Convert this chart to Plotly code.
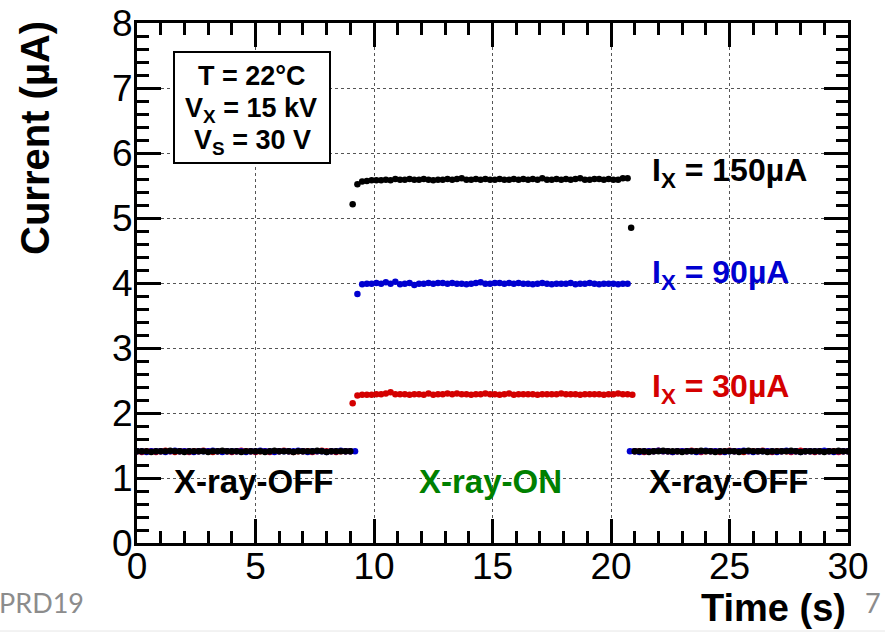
import plotly.graph_objects as go

# ---- measured samples -------------------------------------------------
# shared sampling times (s) for the three phases
t_off1 = [0.0, 0.2, 0.4, 0.6, 0.8, 1.0, 1.2, 1.4, 1.6, 1.8, 2.0, 2.2, 2.4, 2.6, 2.8,
          3.0, 3.2, 3.4, 3.6, 3.8, 4.0, 4.2, 4.4, 4.6, 4.8, 5.0, 5.2, 5.4, 5.6, 5.8,
          6.0, 6.2, 6.4, 6.6, 6.8, 7.0, 7.2, 7.4, 7.6, 7.8, 8.0, 8.2, 8.4, 8.6, 8.8,
          9.0, 9.2]
t_on = [9.3, 9.5, 9.7, 9.9, 10.1, 10.3, 10.5, 10.7, 10.9, 11.1, 11.3, 11.5, 11.7,
        11.9, 12.1, 12.3, 12.5, 12.7, 12.9, 13.1, 13.3, 13.5, 13.7, 13.9, 14.1, 14.3,
        14.5, 14.7, 14.9, 15.1, 15.3, 15.5, 15.7, 15.9, 16.1, 16.3, 16.5, 16.7, 16.9,
        17.1, 17.3, 17.5, 17.7, 17.9, 18.1, 18.3, 18.5, 18.7, 18.9, 19.1, 19.3, 19.5,
        19.7, 19.9, 20.1, 20.3, 20.5, 20.7]
t_off2 = [20.8, 21.0, 21.2, 21.4, 21.6, 21.8, 22.0, 22.2, 22.4, 22.6, 22.8, 23.0,
          23.2, 23.4, 23.6, 23.8, 24.0, 24.2, 24.4, 24.6, 24.8, 25.0, 25.2, 25.4, 25.6,
          25.8, 26.0, 26.2, 26.4, 26.6, 26.8, 27.0, 27.2, 27.4, 27.6, 27.8, 28.0, 28.2,
          28.4, 28.6, 28.8, 29.0, 29.2, 29.4, 29.6, 29.8, 30.0]

# I_X = 30 uA (red)
red_off1 = [1.41, 1.40, 1.41, 1.41, 1.40, 1.41, 1.42, 1.41, 1.40, 1.41, 1.41, 1.40,
            1.41, 1.41, 1.42, 1.41, 1.40, 1.41, 1.41, 1.41, 1.40, 1.41, 1.42, 1.41,
            1.41, 1.40, 1.41, 1.41, 1.40, 1.41, 1.41, 1.42, 1.41, 1.40, 1.41, 1.41,
            1.41, 1.40, 1.41, 1.42, 1.41, 1.41, 1.40, 1.41, 1.41, 1.41, None]
red_edge_t = [9.1, 20.9]
red_edge_v = [2.15, 2.28]
red_on = [2.27, 2.28, 2.28, 2.28, 2.29, 2.29, 2.30, 2.32, 2.29, 2.29, 2.29, 2.28,
          2.29, 2.29, 2.28, 2.30, 2.28, 2.29, 2.29, 2.30, 2.29, 2.30, 2.29, 2.29,
          2.28, 2.29, 2.29, 2.30, 2.29, 2.29, 2.28, 2.29, 2.30, 2.28, 2.29, 2.29,
          2.29, 2.29, 2.28, 2.29, 2.29, 2.29, 2.29, 2.30, 2.29, 2.29, 2.29, 2.28,
          2.29, 2.29, 2.29, 2.29, 2.28, 2.29, 2.29, 2.30, 2.29, 2.29]
red_off2 = [None, 1.41, 1.41, 1.40, 1.41, 1.41, 1.42, 1.41, 1.41, 1.40, 1.41, 1.41,
            1.41, 1.42, 1.41, 1.40, 1.41, 1.41, 1.41, 1.40, 1.41, 1.42, 1.41, 1.41,
            1.40, 1.41, 1.41, 1.41, 1.42, 1.41, 1.40, 1.41, 1.41, 1.41, 1.40, 1.41,
            1.42, 1.41, 1.41, 1.40, 1.41, 1.41, 1.41, 1.41, 1.40, 1.41, 1.41]

# I_X = 90 uA (blue)
blue_off1 = [1.41, 1.41, 1.40, 1.41, 1.41, 1.41, 1.40, 1.41, 1.42, 1.41, 1.41, 1.41,
             1.40, 1.41, 1.41, 1.41, 1.42, 1.41, 1.40, 1.41, 1.41, 1.41, 1.41, 1.40,
             1.41, 1.41, 1.42, 1.41, 1.41, 1.40, 1.41, 1.41, 1.41, 1.41, 1.42, 1.41,
             1.40, 1.41, 1.41, 1.41, 1.40, 1.41, 1.41, 1.42, 1.41, 1.41, 1.41]
blue_edge_t = [9.3]
blue_edge_v = [3.83]
blue_on = [None, 3.98, 3.99, 3.99, 4.00, 3.99, 4.01, 3.99, 4.02, 3.98, 3.99, 4.00,
           3.97, 3.99, 3.99, 4.00, 3.99, 4.00, 4.00, 3.99, 4.00, 3.99, 3.99, 3.98,
           3.99, 4.00, 4.01, 3.99, 3.99, 4.00, 4.00, 3.99, 4.00, 3.99, 4.00, 3.99,
           3.99, 3.98, 3.99, 4.00, 3.99, 3.98, 3.99, 3.99, 3.99, 4.00, 3.98, 3.99,
           3.99, 4.00, 3.99, 3.98, 3.99, 3.99, 3.99, 3.98, 3.99, 3.99]
blue_off2 = [1.41, 1.41, 1.40, 1.41, 1.41, 1.41, 1.42, 1.41, 1.41, 1.40, 1.41, 1.41,
             1.41, 1.41, 1.40, 1.41, 1.42, 1.41, 1.41, 1.41, 1.40, 1.41, 1.41, 1.41,
             1.42, 1.41, 1.40, 1.41, 1.41, 1.41, 1.41, 1.40, 1.41, 1.42, 1.41, 1.41,
             1.40, 1.41, 1.41, 1.41, 1.41, 1.42, 1.41, 1.40, 1.41, 1.41, 1.41]

# I_X = 150 uA (black)
black_off1 = [1.41, 1.41, 1.41, 1.40, 1.41, 1.41, 1.41, 1.42, 1.41, 1.41, 1.40, 1.41,
              1.41, 1.41, 1.41, 1.40, 1.41, 1.41, 1.42, 1.41, 1.41, 1.41, 1.40, 1.41,
              1.41, 1.41, 1.41, 1.40, 1.41, 1.42, 1.41, 1.41, 1.41, 1.40, 1.41, 1.41,
              1.41, 1.41, 1.42, 1.41, 1.40, 1.41, 1.41, 1.41, 1.41, 1.41, None]
black_edge_t = [9.1, 20.85]
black_edge_v = [5.21, 4.85]
black_on = [5.52, 5.56, 5.57, 5.58, 5.58, 5.58, 5.59, 5.58, 5.60, 5.59, 5.59, 5.60,
            5.59, 5.59, 5.60, 5.59, 5.58, 5.59, 5.59, 5.60, 5.59, 5.60, 5.61, 5.59,
            5.59, 5.60, 5.59, 5.60, 5.59, 5.59, 5.60, 5.59, 5.59, 5.60, 5.59, 5.60,
            5.59, 5.60, 5.59, 5.61, 5.59, 5.59, 5.60, 5.59, 5.60, 5.59, 5.60, 5.61,
            5.59, 5.59, 5.60, 5.60, 5.59, 5.60, 5.59, 5.59, 5.61, 5.61]
black_off2 = [None, 1.41, 1.41, 1.41, 1.40, 1.41, 1.41, 1.42, 1.41, 1.41, 1.41, 1.40,
              1.41, 1.41, 1.41, 1.42, 1.41, 1.41, 1.40, 1.41, 1.41, 1.41, 1.41, 1.40,
              1.41, 1.42, 1.41, 1.41, 1.41, 1.40, 1.41, 1.41, 1.41, 1.41, 1.42, 1.41,
              1.40, 1.41, 1.41, 1.41, 1.41, 1.40, 1.41, 1.41, 1.42, 1.41, 1.41]

series = [
    ("I_X = 30µA", "#d40000", red_off1, red_edge_t, red_edge_v, red_on, red_off2),
    ("I_X = 90µA", "#0000d0", blue_off1, blue_edge_t, blue_edge_v, blue_on, blue_off2),
    ("I_X = 150µA", "#000000", black_off1, black_edge_t, black_edge_v, black_on, black_off2),
]

FONT = "Liberation Sans, Arial, Helvetica, sans-serif"

# plot-area geometry in pixels (left, right, top, bottom)
L, R, T, B = 137, 848, 23, 543
W, H = R - L, B - T


def px(x):
    return (x - L) / W


def py(y):
    return (B - y) / H


fig = go.Figure()
for name, color, off1, edge_t, edge_v, on, off2 in series:
    xs = t_off1 + edge_t + t_on + t_off2
    ys = off1 + edge_v + on + off2
    fig.add_trace(go.Scatter(
        x=xs, y=ys, mode="markers", name=name, showlegend=False,
        marker=dict(color=color, size=6.5, line=dict(width=0)),
    ))

axis_common = dict(
    showline=True, linewidth=3, linecolor="black", mirror="ticks",
    ticks="inside", ticklen=24, tickwidth=3, tickcolor="black",
    showgrid=True, gridcolor="#555555", gridwidth=1, griddash="dot",
    zeroline=False, automargin=False,
    tickfont=dict(family=FONT, size=37, color="black"),
)
fig.update_xaxes(range=[0, 30], dtick=5, tick0=0, ticklabelstandoff=-11,
                 minor=dict(ticks="inside", ticklen=12, tickwidth=3, tickcolor="black",
                            dtick=1, showgrid=False),
                 **axis_common)
fig.update_yaxes(range=[0, 8], dtick=1, tick0=0, ticklabelstandoff=-6,
                 minor=dict(ticks="inside", ticklen=12, tickwidth=3, tickcolor="black",
                            dtick=0.2, showgrid=False),
                 **axis_common)

box_font = dict(family=FONT, size=27, color="black")
annotations = [
    # axis titles
    dict(text="<b>Time (s)</b>", xref="paper", yref="paper", x=1.0, y=py(608),
         xanchor="right", yanchor="middle", showarrow=False,
         font=dict(family=FONT, size=38, color="black")),
    dict(text="<b>Current (µA)</b>", xref="paper", yref="paper", x=px(35),
         y=py(19), xanchor="center", yanchor="top", textangle=-90, showarrow=False,
         font=dict(family=FONT, size=40, color="black")),
    # condition box text
    dict(text="<b>T = 22°C</b>", xref="paper", yref="paper", x=px(252), y=py(76),
         xanchor="center", yanchor="middle", showarrow=False, font=box_font),
    dict(text="<b>V<sub>X</sub> = 15 kV</b>", xref="paper", yref="paper", x=px(251),
         y=py(110), xanchor="center", yanchor="middle", showarrow=False, font=box_font),
    dict(text="<b>V<sub>S</sub> = 30 V</b>", xref="paper", yref="paper", x=px(252),
         y=py(142), xanchor="center", yanchor="middle", showarrow=False, font=box_font),
    # series labels
    dict(text="<b>I<sub>X</sub> = 150µA</b>", x=21.65, y=5.70, xanchor="left",
         yanchor="middle", showarrow=False, font=dict(family=FONT, size=32, color="black")),
    dict(text="<b>I<sub>X</sub> = 90µA</b>", x=21.65, y=4.13, xanchor="left",
         yanchor="middle", showarrow=False, font=dict(family=FONT, size=32, color="#0000d0")),
    dict(text="<b>I<sub>X</sub> = 30µA</b>", x=21.65, y=2.38, xanchor="left",
         yanchor="middle", showarrow=False, font=dict(family=FONT, size=32, color="#d40000")),
    # phase labels
    dict(text="<b>X-ray-OFF</b>", x=4.92, y=0.95, xanchor="center", yanchor="middle",
         showarrow=False, font=dict(family=FONT, size=33, color="black")),
    dict(text="<b>X-ray-ON</b>", x=14.9, y=0.94, xanchor="center", yanchor="middle",
         showarrow=False, font=dict(family=FONT, size=33, color="#008000")),
    dict(text="<b>X-ray-OFF</b>", x=24.96, y=0.95, xanchor="center", yanchor="middle",
         showarrow=False, font=dict(family=FONT, size=33, color="black")),
    # slide footer
    dict(text="PRD19", xref="paper", yref="paper", x=px(0), xshift=-3, y=py(602),
         xanchor="left", yanchor="middle", showarrow=False,
         font=dict(family="Lato, Carlito, sans-serif", size=27, color="#8c8c8c")),
    dict(text="7", xref="paper", yref="paper", x=px(873), y=py(602),
         xanchor="center", yanchor="middle", showarrow=False,
         font=dict(family="Lato, Carlito, sans-serif", size=27, color="#8c8c8c")),
]
fig.update_layout(
    width=885, height=633,
    margin=dict(l=L, r=885 - R, t=T, b=633 - B, pad=0),
    paper_bgcolor="white", plot_bgcolor="white",
    annotations=annotations,
    shapes=[
        # condition box
        dict(type="rect", xref="paper", yref="paper", layer="above",
             x0=px(174), x1=px(330), y0=py(163), y1=py(52),
             fillcolor="white", line=dict(color="black", width=2)),
        # faint slide edge
        dict(type="line", xref="paper", yref="paper",
             x0=px(0), x1=px(885), y0=py(631), y1=py(631),
             line=dict(color="#e6e6e6", width=1)),
    ],
)

fig.write_html("out.html")
